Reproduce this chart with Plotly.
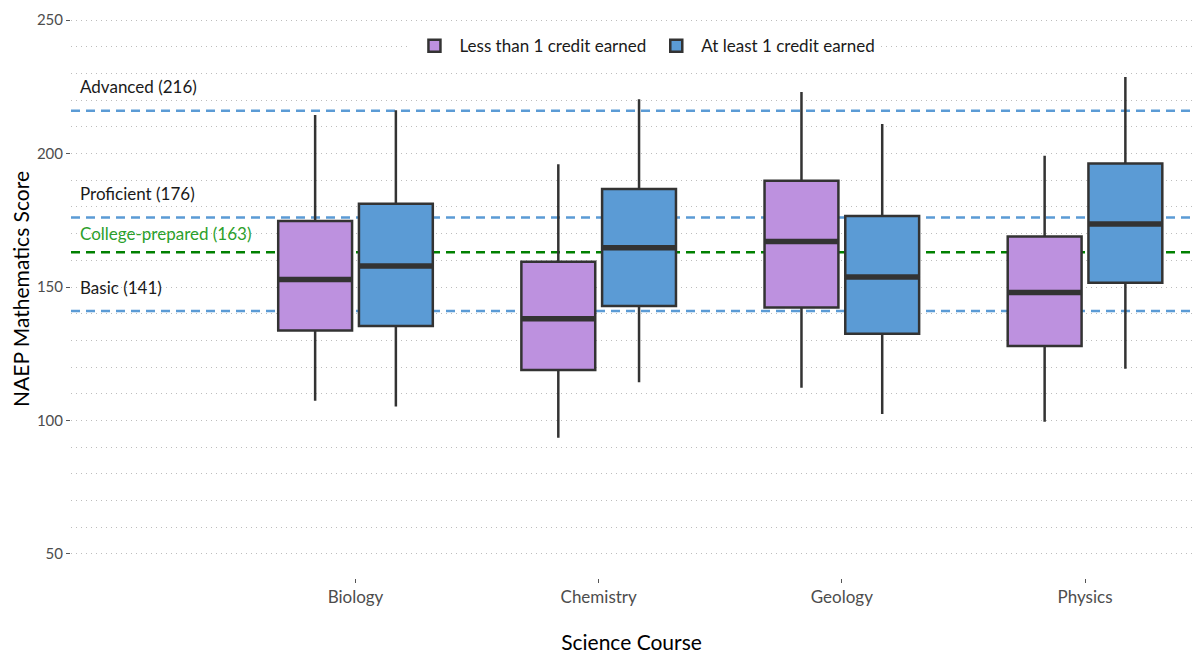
import plotly.graph_objects as go

# ---- data ----
courses = ["Biology", "Chemistry", "Geology", "Physics"]
course_pos = [1, 2, 3, 4]

groups = ["Less than 1 credit earned", "At least 1 credit earned"]

less_lower = [107.4, 93.5, 112.3, 99.5]
less_q1 = [133.7, 118.9, 142.3, 127.9]
less_median = [152.8, 138.1, 167.0, 147.9]
less_q3 = [174.7, 159.5, 189.8, 168.9]
less_upper = [214.4, 196.0, 223.0, 199.2]

atl_lower = [105.2, 114.3, 102.4, 119.4]
atl_q1 = [135.4, 142.9, 132.5, 151.6]
atl_median = [157.9, 164.7, 153.7, 173.6]
atl_q3 = [181.2, 186.7, 176.6, 196.3]
atl_upper = [216.2, 220.3, 211.1, 228.7]

ref_names = ["Advanced", "Proficient", "College-prepared", "Basic"]
ref_values = [216, 176, 163, 141]
ref_label_y = [225, 185, 170, 150]

# ---- style ----
purple = "#BD91DF"
blue = "#5B9BD5"
outline = "#333333"
ref_colors = ["#5B9BD5", "#5B9BD5", "#008000", "#5B9BD5"]
ref_text_colors = ["#1a1a1a", "#1a1a1a", "#2ca02c", "#1a1a1a"]
FONT = "Lato, 'Open Sans', sans-serif"
GRID = "#bdbdbd"

BOXGAP = 0.336
GROUPGAP = 0.085
offset = 0.5 * (1 - BOXGAP) / 2
halfw = offset * (1 - GROUPGAP)

fig = go.Figure()

series = [
    (groups[0], purple, less_lower, less_q1, less_median, less_q3, less_upper, -offset),
    (groups[1], blue, atl_lower, atl_q1, atl_median, atl_q3, atl_upper, offset),
]

for name, color, lo, q1, med, q3, up, off in series:
    fig.add_trace(go.Box(
        name=name, x=course_pos, lowerfence=lo, q1=q1, median=med, q3=q3, upperfence=up,
        fillcolor=color, line=dict(color=outline, width=2.5), whiskerwidth=0,
        boxpoints=False, hoverinfo="skip",
    ))

for name, color, lo, q1, med, q3, up, off in series:
    xs, ys = [], []
    for p, m in zip(course_pos, med):
        xs += [p + off - halfw, p + off + halfw, None]
        ys += [m, m, None]
    fig.add_trace(go.Scatter(
        x=xs, y=ys, mode="lines", line=dict(color=outline, width=5.5),
        showlegend=False, hoverinfo="skip",
    ))

for v, c in zip(ref_values, ref_colors):
    fig.add_shape(type="line", xref="paper", x0=0, x1=1, yref="y", y0=v, y1=v,
                  line=dict(color=c, width=2.5, dash="9px,6px"), layer="between")

for n, v, ly, tc in zip(ref_names, ref_values, ref_label_y, ref_text_colors):
    fig.add_annotation(x=-0.14, y=ly, xref="x", yref="y", text=f"{n} ({v})",
                       showarrow=False, xanchor="left", yanchor="middle",
                       font=dict(family=FONT, size=17, color=tc))

fig.update_layout(
    width=1197, height=654,
    margin=dict(l=71, r=5, t=0, b=76),
    plot_bgcolor="white", paper_bgcolor="white",
    boxmode="group", boxgap=BOXGAP, boxgroupgap=GROUPGAP,
    font=dict(family=FONT, size=15, color="#4d4d4d"),
    legend=dict(orientation="h", x=0.512, xanchor="center", y=0.92, yanchor="middle",
                bgcolor="white", font=dict(family=FONT, size=17, color="#1a1a1a"),
                itemwidth=40),
    xaxis=dict(range=[-0.17, 4.44], tickvals=course_pos, ticktext=courses,
               showgrid=False, zeroline=False, ticks="outside", ticklen=4,
               tickcolor="#555555", tickwidth=1,
               tickfont=dict(family=FONT, size=17, color="#4d4d4d"),
               title=dict(text="Science Course", standoff=31,
                          font=dict(family=FONT, size=21, color="#000000"))),
    yaxis=dict(range=[41, 257.5], tickvals=[50, 100, 150, 200, 250],
               showgrid=True, gridcolor=GRID, griddash="1px,4px", gridwidth=1,
               minor=dict(tickvals=list(range(60, 250, 10)), showgrid=True,
                          gridcolor=GRID, griddash="1px,4px", gridwidth=1, ticks=""),
               zeroline=False, ticks="outside", ticklen=4, tickcolor="#555555", tickwidth=1,
               tickfont=dict(family=FONT, size=15, color="#4d4d4d"),
               title=dict(text="NAEP Mathematics Score", standoff=1,
                          font=dict(family=FONT, size=21, color="#000000"))),
)

fig.write_html("out.html")
